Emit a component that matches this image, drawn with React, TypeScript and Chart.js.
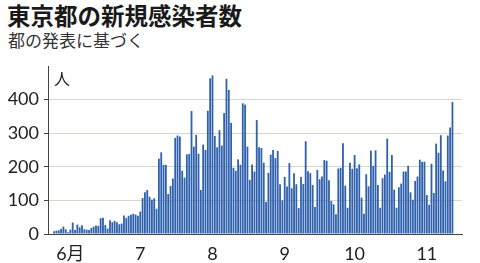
import React, { useEffect, useRef } from "react";
import { Chart, registerables } from "chart.js";

Chart.register(...registerables);

const TITLE = "東京都の新規感染者数";
const SUBTITLE = "都の発表に基づく";
const UNIT = "人";

// Daily new cases, 2020-05-25 .. 2020-11-12
const maySeries = [8, 10, 11, 15, 22, 14, 5];
const junSeries = [13, 34, 12, 28, 20, 26, 14, 13, 12, 18, 22, 25, 24, 47, 48, 27, 16, 41, 35, 39, 35, 29, 31, 55, 48, 54, 57, 60, 58, 54];
const julSeries = [67, 107, 124, 131, 111, 102, 106, 75, 224, 243, 206, 206, 119, 143, 165, 286, 293, 290, 188, 168, 237, 238, 366, 260, 295, 239, 131, 266, 250, 367, 463];
const augSeries = [472, 292, 258, 309, 263, 360, 462, 429, 331, 197, 188, 222, 206, 389, 385, 260, 161, 207, 186, 339, 258, 256, 212, 95, 182, 236, 250, 226, 247, 148, 100];
const sepSeries = [170, 141, 211, 136, 181, 148, 77, 170, 149, 276, 187, 181, 146, 80, 191, 163, 171, 220, 218, 160, 98, 88, 59, 195, 197, 270, 144, 78, 212, 194];
const octSeries = [235, 196, 207, 108, 60, 178, 142, 248, 203, 249, 146, 78, 166, 177, 284, 185, 235, 132, 78, 139, 150, 186, 186, 203, 124, 102, 158, 171, 221, 215, 215];
const novSeries = [116, 87, 209, 122, 269, 242, 294, 189, 157, 293, 317, 393];

const values = [...maySeries, ...junSeries, ...julSeries, ...augSeries, ...sepSeries, ...octSeries, ...novSeries];

// Day index (from 5/25) of the first of each month, with its label
const monthTickIndex = [7, 37, 68, 99, 129, 160];
const monthTickLabels = ["6月", "7", "8", "9", "10", "11"];

const yTicks = [0, 100, 200, 300, 400];

export default function App() {
  const ref = useRef<HTMLCanvasElement | null>(null);

  useEffect(() => {
    if (!ref.current) return;
    const unitPlugin = {
      id: "unitLabel",
      afterDraw(chart: any) {
        const { ctx, chartArea } = chart;
        ctx.save();
        ctx.fillStyle = "#222";
        ctx.font = '16px "Noto Sans CJK JP"';
        ctx.textAlign = "center";
        ctx.textBaseline = "middle";
        ctx.fillText(UNIT, chartArea.left + 14, chartArea.top + 13);
        ctx.restore();
      },
    };
    const chart = new Chart(ref.current, {
      type: "bar",
      data: {
        datasets: [
          {
            data: values.map((v, i) => ({ x: i, y: v })),
            backgroundColor: "#3061ad",
            borderWidth: 0,
            barPercentage: 0.78,
            categoryPercentage: 1,
          },
        ],
      },
      options: {
        animation: false,
        responsive: false,
        maintainAspectRatio: false,
        layout: { padding: { top: 66, right: 18, left: 0, bottom: 0 } },
        plugins: { legend: { display: false }, tooltip: { enabled: false } },
        scales: {
          x: {
            type: "linear",
            offset: false,
            min: -2.6,
            max: 175.1,
            grid: { display: false, drawTicks: false, offset: false },
            border: { display: true, color: "#444", width: 1 },
            afterBuildTicks: (axis: any) => {
              axis.ticks = monthTickIndex.map((v) => ({ value: v }));
            },
            afterFit: (axis: any) => {
              axis.height = 29;
            },
            ticks: {
              autoSkip: false,
              maxRotation: 0,
              padding: 9,
              color: "#222",
              font: { family: 'Lato, "Noto Sans CJK JP"', size: 18 },
              callback: (value: any) => {
                const k = monthTickIndex.indexOf(Number(value));
                return k >= 0 ? monthTickLabels[k] : "";
              },
            },
          },
          y: {
            min: 0,
            max: 500,
            grid: { color: "#d6d6c9", lineWidth: 1, tickColor: "#444", tickLength: 4 },
            border: { display: true, color: "#444", width: 1 },
            afterBuildTicks: (axis: any) => {
              axis.ticks = yTicks.map((v) => ({ value: v }));
            },
            afterFit: (axis: any) => {
              axis.width = 48;
            },
            ticks: {
              padding: 5,
              color: "#222",
              font: { family: "Lato", size: 18 },
            },
          },
        },
      },
      plugins: [unitPlugin],
    } as any);
    return () => chart.destroy();
  }, []);

  return (
    <div style={{ position: "absolute", left: 0, top: 0, width: 480, height: 263, background: "#fff", overflow: "hidden" }}>
      <div
        style={{
          position: "absolute",
          left: 7,
          top: 3,
          fontFamily: '"Noto Sans CJK JP"',
          fontWeight: 700,
          fontSize: 23.5,
          lineHeight: "24px",
          color: "#1a1a1a",
          whiteSpace: "nowrap",
        }}
      >
        {TITLE}
      </div>
      <div
        style={{
          position: "absolute",
          left: 8,
          top: 30,
          fontFamily: '"Noto Sans CJK JP"',
          fontSize: 17,
          lineHeight: "20px",
          color: "#333",
          whiteSpace: "nowrap",
        }}
      >
        {SUBTITLE}
      </div>
      <canvas ref={ref} width={480} height={263} style={{ position: "absolute", left: 0, top: 0 }} />
    </div>
  );
}
